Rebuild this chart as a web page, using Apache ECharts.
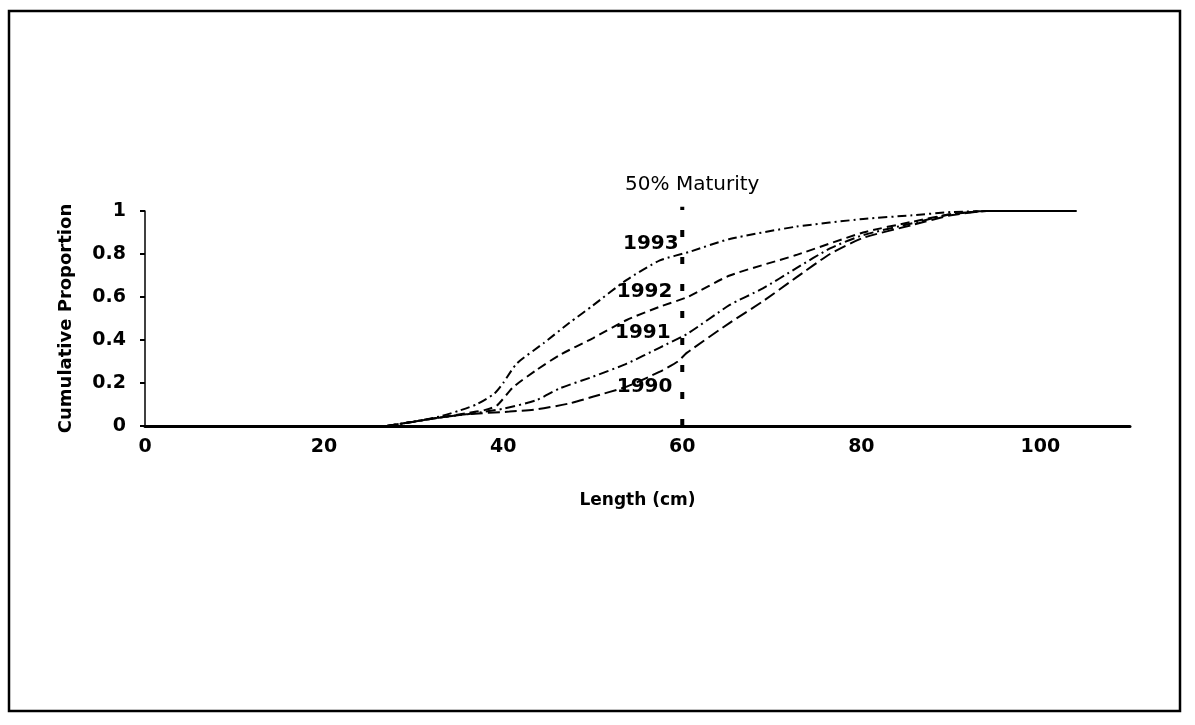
<!DOCTYPE html>
<html>
<head>
<meta charset="utf-8">
<script src="https://cdn.jsdelivr.net/npm/echarts@6/dist/echarts.min.js"></script>
<style>
html,body{margin:0;padding:0;background:#fff;}
#chart{width:1195px;height:725px;}
</style>
</head>
<body>
<div id="chart"></div>
<script>
// Data (Length cm, cumulative proportion)
const xTicks = [0, 20, 40, 60, 80, 100];
const yTicks = [0, 0.2, 0.4, 0.6, 0.8, 1];
const seriesNames = ['1993', '1992', '1991', '1990'];

const s1993 = [[27,0],[30,0.02],[33,0.045],[35,0.07],[37,0.1],[39,0.15],[40,0.2],[41.5,0.29],[44.5,0.385],[47.4,0.48],[50,0.56],[53.8,0.68],[57.5,0.77],[60.8,0.81],[65.3,0.87],[72.7,0.927],[80.2,0.963],[85.7,0.98],[90,0.995],[95,1],[104,1]];
const s1992 = [[27,0],[30,0.02],[33,0.04],[36,0.06],[38,0.075],[39.3,0.095],[41.1,0.18],[43.7,0.26],[46.3,0.33],[50,0.408],[53.8,0.493],[57.5,0.555],[60.6,0.60],[65.3,0.70],[72.7,0.795],[80.2,0.90],[85.7,0.95],[90,0.985],[94,1],[104,1]];
const s1991 = [[27,0],[30,0.02],[33,0.04],[36,0.055],[40,0.08],[43.7,0.12],[46.3,0.175],[50,0.229],[53.8,0.29],[57.5,0.365],[60.6,0.43],[65.3,0.563],[69,0.64],[72.7,0.733],[76.5,0.826],[80.2,0.888],[85.7,0.943],[90,0.985],[94,1],[104,1]];
const s1990 = [[27,0],[30,0.02],[33,0.04],[36,0.055],[40.7,0.067],[43.7,0.077],[47.4,0.105],[50,0.136],[53.8,0.183],[57.5,0.253],[59.5,0.3],[60.5,0.34],[65.3,0.48],[69,0.58],[72.7,0.69],[76.5,0.80],[80.2,0.875],[85.7,0.935],[90,0.98],[94,1],[104,1]];

const maturityLength = 60;
const maturityTop = 1.02;
const maturityText = '50% Maturity';
const yearLabelPos = [[59.6,0.847],[58.9,0.623],[58.7,0.433],[58.9,0.181]];

const allSeries = [s1993, s1992, s1991, s1990];
const dashes = [[9,4,2,4],[9,5],[10,4,2,4],[12,5]];

const chart = echarts.init(document.getElementById('chart'), null, {renderer:'canvas'});

const series = allSeries.map((d, i) => ({
  name: seriesNames[i],
  type: 'line',
  data: d,
  symbol: 'none',
  smooth: 0.2,
  lineStyle: {color: '#000', width: 2, type: dashes[i]},
  z: 3
}));

series.push({
  name: 'maturity',
  type: 'line',
  data: [[maturityLength, 0], [maturityLength, maturityTop]],
  symbol: 'none',
  clip: false,
  lineStyle: {color: '#000', width: 4, type: [7, 20]},
  z: 4
});

series.push({
  name: 'yearLabels',
  type: 'scatter',
  symbolSize: 0,
  clip: false,
  itemStyle: {color: '#000', opacity: 1},
  data: yearLabelPos.map((p, i) => ({value: p, name: seriesNames[i]})),
  label: {
    show: true, position: 'left', distance: 0,
    formatter: p => p.name,
    color: '#000', opacity: 1, textBorderWidth: 0,
    fontFamily: 'DejaVu Sans', fontSize: 20, fontWeight: 'bold'
  },
  z: 5
});

series.push({
  name: 'maturityLabel',
  type: 'scatter',
  symbolSize: 0,
  clip: false,
  itemStyle: {color: '#000', opacity: 1},
  data: [{value: [maturityLength, maturityTop], name: maturityText}],
  label: {
    show: true, position: 'top', distance: 12, offset: [10, 0],
    formatter: p => p.name,
    color: '#000', opacity: 1, textBorderWidth: 0,
    fontFamily: 'DejaVu Sans', fontSize: 20
  },
  z: 5
});

const option = {
  backgroundColor: '#fff',
  animation: false,
  grid: {left: 145, right: 65, top: 211, bottom: 725 - 426},
  xAxis: {
    type: 'value', min: 0, max: 110, interval: 20,
    name: 'Length (cm)', nameLocation: 'middle', nameGap: 66,
    nameTextStyle: {color: '#000', fontFamily: 'DejaVu Sans', fontSize: 17, fontWeight: 'bold'},
    axisLine: {show: true, lineStyle: {color: '#000', width: 3}},
    axisTick: {show: false},
    splitLine: {show: false},
    axisLabel: {
      color: '#000', fontFamily: 'DejaVu Sans', fontSize: 19, fontWeight: 'bold', margin: 12,
      showMaxLabel: false,
      formatter: v => xTicks.includes(v) ? String(v) : ''
    }
  },
  yAxis: {
    type: 'value', min: 0, max: 1, interval: 0.2,
    name: 'Cumulative Proportion', nameLocation: 'middle', nameGap: 70, nameRotate: 90,
    nameTextStyle: {color: '#000', fontFamily: 'DejaVu Sans', fontSize: 18, fontWeight: 'bold'},
    axisLine: {show: true, lineStyle: {color: '#000', width: 1.5}},
    axisTick: {show: true, inside: false, length: 5, lineStyle: {color: '#000', width: 2}},
    splitLine: {show: false},
    axisLabel: {
      color: '#000', fontFamily: 'DejaVu Sans', fontSize: 19, fontWeight: 'bold', margin: 19,
      formatter: v => {
        const t = yTicks.find(k => Math.abs(k - v) < 1e-9);
        return t === undefined ? '' : String(t);
      }
    }
  },
  graphic: [{
    type: 'rect',
    shape: {x: 9, y: 11, width: 1171, height: 700},
    style: {fill: 'none', stroke: '#000', lineWidth: 2.5},
    silent: true, z: 0
  }],
  series: series
};

chart.setOption(option);
</script>
</body>
</html>
